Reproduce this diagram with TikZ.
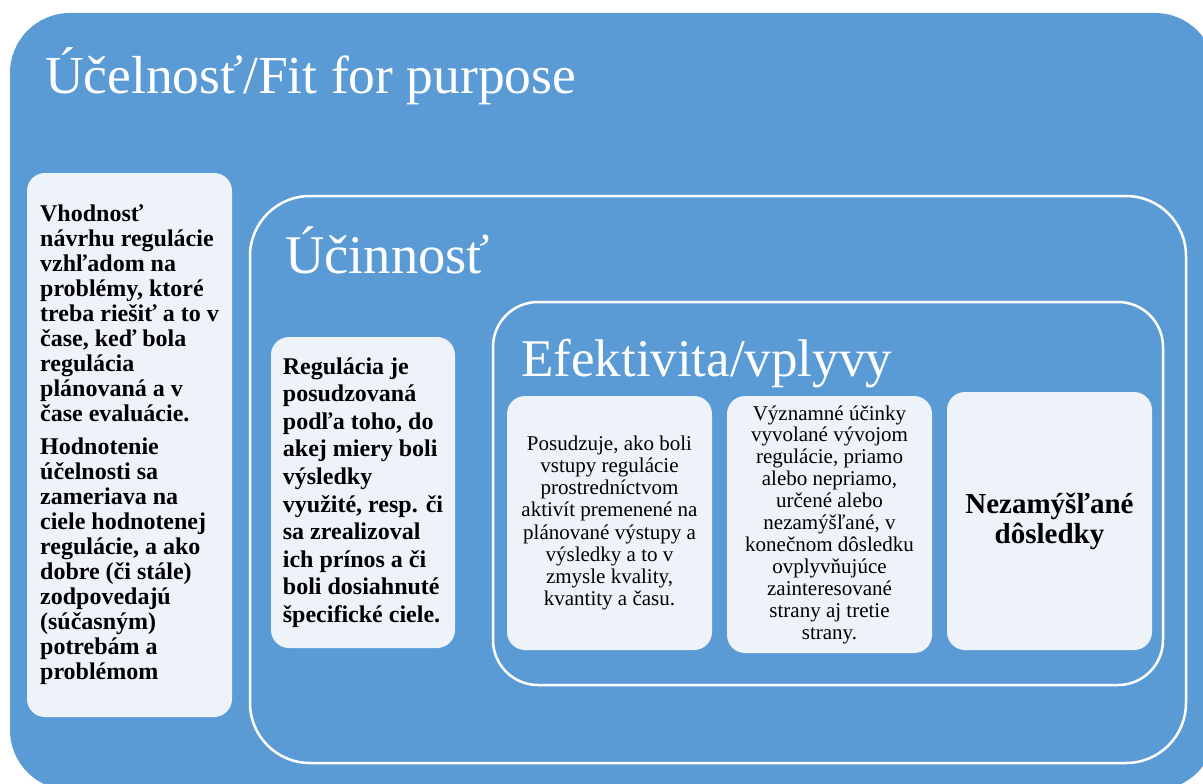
\documentclass[tikz,border=0pt]{standalone}
\usepackage{fontspec}
\setmainfont{Liberation Serif}
\definecolor{bluefill}{RGB}{91,155,213}
\definecolor{lightfill}{RGB}{238,242,249}
\begin{document}
\begin{tikzpicture}[x=1pt,y=-1pt,
  outerbox/.style={fill=bluefill, draw=none, rounded corners=60pt, inner sep=0pt},
  framebox/.style={draw=white, line width=2.5pt, fill=none, inner sep=0pt},
  lightbox/.style={fill=lightfill, draw=none, rounded corners=18pt, inner sep=0pt},
  titletext/.style={anchor=base west, inner sep=0pt, text=white}]
\useasboundingbox (0,0) rectangle (1203,784);
\clip (0,0) rectangle (1203,784);
\fill[white] (0,0) rectangle (1203,784);
% outer box
\node[outerbox, minimum width=1205pt, minimum height=777pt] (outer) at (612.5,401.5) {};
% frames
\node[framebox, rounded corners=60pt, minimum width=936pt, minimum height=567pt] (fucin) at (718,479.5) {};
\node[framebox, rounded corners=45pt, minimum width=670pt, minimum height=383pt] (fefek) at (828,493.5) {};
% titles
\node[titletext, font=\fontsize{53.5}{60}\selectfont] (tucel) at (45,93) {Účelnosť/Fit for purpose};
\node[titletext, font=\fontsize{54.5}{60}\selectfont] (tucin) at (285,273) {Účinnosť};
\node[titletext, font=\fontsize{53}{60}\selectfont] (tefek) at (521,376) {Efektivita/vplyvy};
% box 1
\node[lightbox, minimum width=205pt, minimum height=544pt, align=left,
  font=\fontsize{24}{25}\selectfont\bfseries] (b1) at (129.5,445)
 {Vhodnosť\\návrhu regulácie\\vzhľadom na\\problémy, ktoré\\treba riešiť a to v\\čase, keď bola\\regulácia\\plánovaná a v\\čase evaluácie.\\[8pt]Hodnotenie\\účelnosti sa\\zameriava na\\ciele hodnotenej\\regulácie, a ako\\dobre (či stále)\\zodpovedajú\\(súčasným)\\potrebám a\\problémom};
% box 2
\node[lightbox, minimum width=184pt, minimum height=311pt, align=left,
  font=\fontsize{24}{27.6}\selectfont\bfseries] (b2) at (363,492.5)
 {Regulácia je\\posudzovaná\\podľa toho, do\\akej miery boli\\výsledky\\využité, resp. či\\sa zrealizoval\\ich prínos a či\\boli dosiahnuté\\špecifické ciele.};
% box 3
\node[lightbox, minimum width=205pt, minimum height=254pt, align=center,
  font=\fontsize{21}{22.1}\selectfont] (b3) at (609.5,523)
 {Posudzuje, ako boli\\vstupy regulácie\\prostredníctvom\\aktivít premenené na\\plánované výstupy a\\výsledky a to v\\zmysle kvality,\\kvantity a času.};
% box 4
\node[lightbox, minimum width=205pt, minimum height=257pt, align=center,
  font=\fontsize{21}{21.9}\selectfont] (b4) at (829.5,524.5)
 {Významné účinky\\vyvolané vývojom\\regulácie, priamo\\alebo nepriamo,\\určené alebo\\nezamýšľané, v\\konečnom dôsledku\\ovplyvňujúce\\zainteresované\\strany aj tretie\\strany.};
% box 5
\node[lightbox, minimum width=205pt, minimum height=258pt, align=center,
  font=\fontsize{29}{30}\selectfont\bfseries] (b5) at (1049.5,521)
 {Nezamýšľané\\dôsledky};
\end{tikzpicture}
\end{document}
